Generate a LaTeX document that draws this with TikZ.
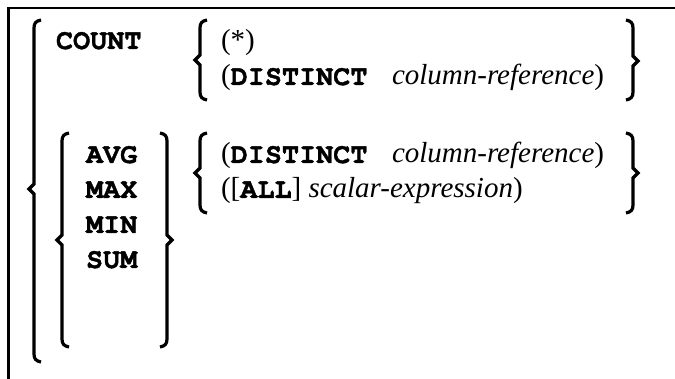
\documentclass[tikz,border=0pt]{standalone}
\usepackage{fontspec}
\setmainfont{Liberation Serif}
\newfontfamily\monofam[BoldFeatures={FakeBold=1.3}]{TeX Gyre Cursor}
\newcommand\kwd[1]{{\monofam\bfseries\fontsize{28.5}{30}\selectfont #1}}
\newcommand\drawlbr[4]{% x, top, mid, bottom
  \draw[bracestyle] ({#1+7},#2) .. controls ({#1+2},{#2+1}) and (#1,{#2+3}) .. (#1,{#2+8})
    -- (#1,{#3-5}) -- ({#1-5},#3) -- (#1,{#3+5}) -- (#1,{#4-8})
    .. controls (#1,{#4-3}) and ({#1+2},{#4-1}) .. ({#1+7},#4);}
\newcommand\drawrbr[4]{% x, top, mid, bottom
  \draw[bracestyle] ({#1-7},#2) .. controls ({#1-2},{#2+1}) and (#1,{#2+3}) .. (#1,{#2+8})
    -- (#1,{#3-5}) -- ({#1+5},#3) -- (#1,{#3+5}) -- (#1,{#4-8})
    .. controls (#1,{#4-3}) and ({#1-2},{#4-1}) .. ({#1-7},#4);}
\begin{document}
\begin{tikzpicture}[x=1pt,y=-1pt,
  txt/.style={inner sep=0pt, outer sep=0pt, anchor=base west, font=\fontsize{29}{32}\selectfont},
  kwtxt/.style={inner sep=0pt, outer sep=0pt, anchor=base west, font=\monofam\bfseries\fontsize{28.5}{30}\selectfont},
  bracestyle/.style={line width=3.2pt},
  framestyle/.style={line width=2.5pt}]
\useasboundingbox (0,0) rectangle (675,379);
\draw[framestyle] (8.7,379) -- (8.7,8) -- (675,8);
% braces
\drawlbr{34}{20}{189}{362}
\drawlbr{62}{133}{240}{347}
\drawrbr{167}{133}{240}{347}
\drawlbr{200}{20}{60}{100}
\drawrbr{633}{20}{61}{100}
\drawlbr{200}{133}{173}{213}
\drawrbr{633}{133}{173}{213}
% texts
\node[kwtxt] (count) at (56,49) {COUNT};
\node[txt] (star) at (221,50) {(*)};
\node[txt] (dist1) at (221,85) {(\kwd{DISTINCT}};
\node[txt] (colref1) at (392,85) {\textit{column-reference})};
\node[kwtxt] (avg) at (86,163) {AVG};
\node[kwtxt] (max) at (86,198) {MAX};
\node[kwtxt] (min) at (86,233) {MIN};
\node[kwtxt] (sum) at (86,268) {SUM};
\node[txt] (dist2) at (221,163) {(\kwd{DISTINCT}};
\node[txt] (colref2) at (392,163) {\textit{column-reference})};
\node[txt] (all) at (221,198) {([\kwd{ALL}] \textit{scalar-expression})};
\end{tikzpicture}
\end{document}
